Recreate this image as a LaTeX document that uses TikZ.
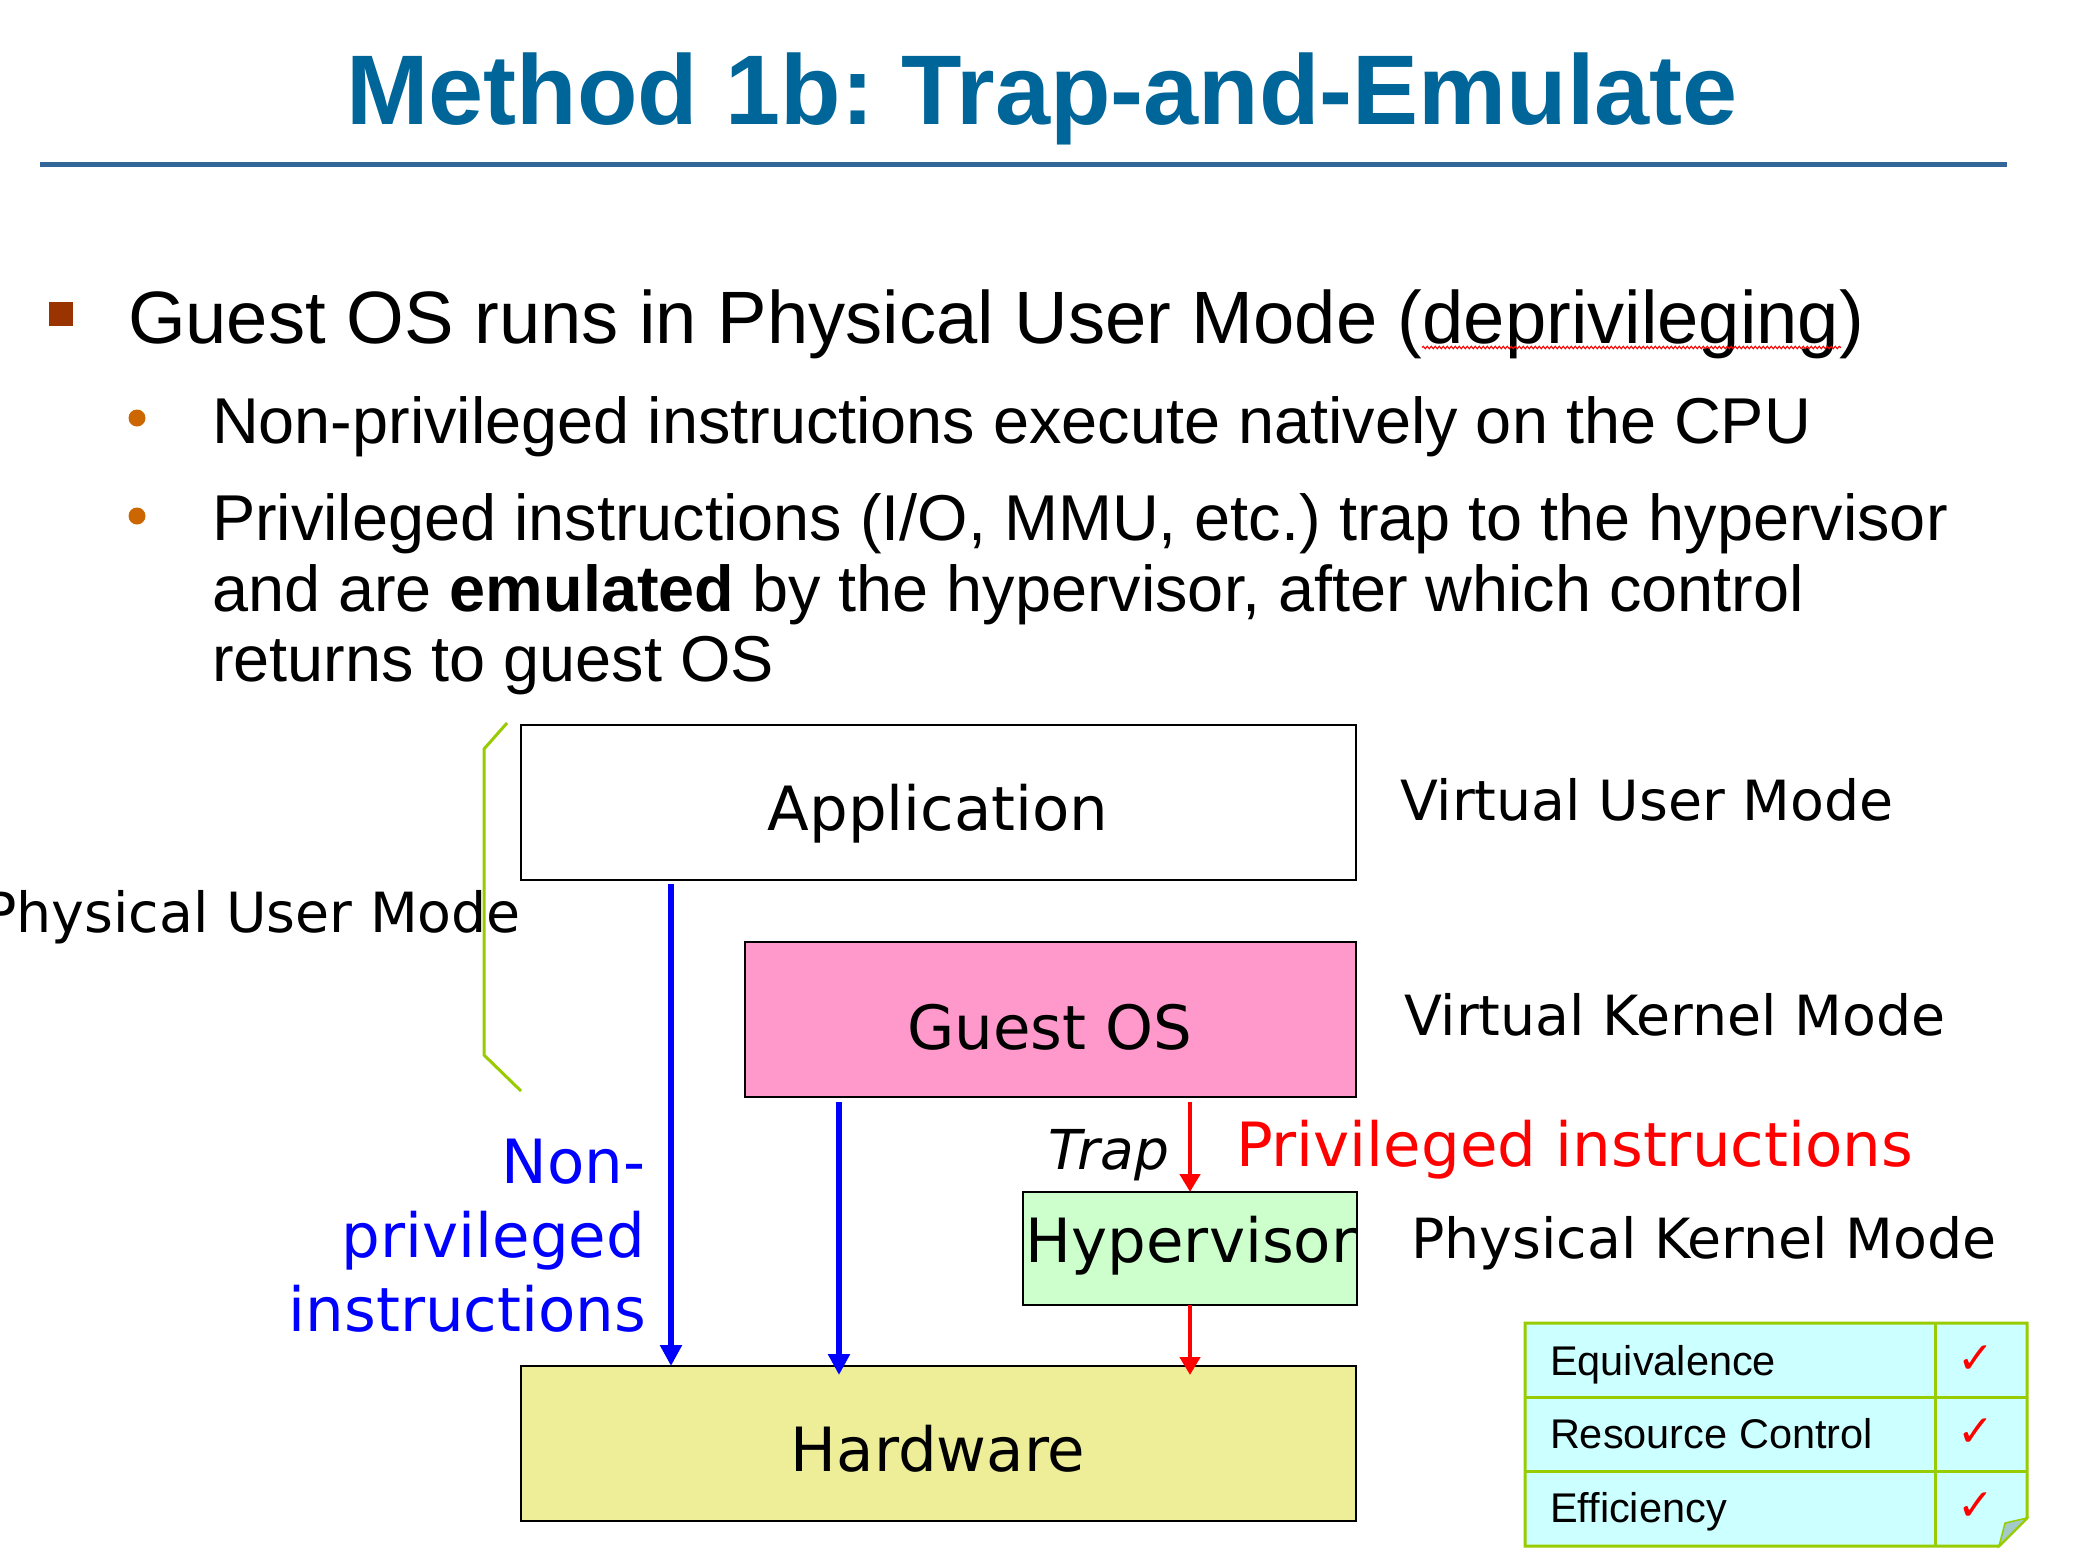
\documentclass[tikz,border=0pt]{standalone}
\usepackage{fontspec}
\setmainfont{Liberation Sans}
\newfontfamily\verd{DejaVu Sans}
\usetikzlibrary{arrows.meta,calc,decorations.pathmorphing}
\frenchspacing

\newcommand\pxsize[1]{\fontsize{#1}{#1}\selectfont}

\definecolor{titleblue}{HTML}{006699}
\definecolor{rulecol}{HTML}{336699}
\definecolor{sqbullet}{HTML}{993300}
\definecolor{dotbullet}{HTML}{CC6600}
\definecolor{guestpink}{HTML}{FF99CC}
\definecolor{hyperfill}{HTML}{CCFFCC}
\definecolor{hwfill}{HTML}{EEEE99}
\definecolor{limegreen}{HTML}{99CC00}
\definecolor{notecyan}{HTML}{CCFFFF}
\definecolor{foldgray}{HTML}{A3C9C9}
\definecolor{pureblue}{HTML}{0000FF}
\definecolor{purered}{HTML}{FF0000}

\tikzset{
  every node/.style={inner sep=0pt, outer sep=0pt},
  layer/.style={draw=black, line width=2.2pt},
  boxlabel/.style={font={\verd\pxsize{61}}, anchor=base},
  modelabel/.style={font={\verd\pxsize{55.4}}},
  bluelabel/.style={font={\verd\pxsize{61}}, text=pureblue, anchor=base east},
  barrow/.style={draw=pureblue, line width=6pt, -{Triangle[length=21pt,width=21pt]}},
  rarrow/.style={draw=purered, line width=4.5pt, -{Triangle[length=18pt,width=20pt]}},
  bodytext/.style={font={\pxsize{64.8}}, anchor=base west},
  notetext/.style={font={\pxsize{41.5}}, anchor=base west},
  tick/.style={font={\verd\bfseries\pxsize{44}}, text=purered},
}

\begin{document}
\begin{tikzpicture}[x=1pt,y=-1pt]
\useasboundingbox (0,0) rectangle (2075,1566);
\fill[white] (0,0) rectangle (2075,1566);

% heading and rule
\node[font={\bfseries\pxsize{99}}, text=titleblue, anchor=base] (title) at (1042,124) {Method 1b: Trap-and-Emulate};
\fill[rulecol] (40,161.5) rectangle (2007,166.5);

% bullet list
\fill[sqbullet] (49,302) rectangle (73,326);
\node[font={\pxsize{74.2}}, anchor=base west] (b1) at (128,343) {Guest OS runs in Physical User Mode (deprivileging)};
\draw[purered, line width=1.1pt, decorate, decoration={snake, amplitude=1.2pt, segment length=4pt}] (1422,347.5) -- (1841,347.5);
\fill[dotbullet] (137,418) circle (8.5);
\node[bodytext] (b2) at (212,443) {Non-privileged instructions execute natively on the CPU};
\fill[dotbullet] (137,516) circle (8.5);
\node[bodytext] (b3a) at (212,540) {Privileged instructions (I/O, MMU, etc.) trap to the hypervisor};
\node[bodytext] (b3b) at (212,611) {and are \textbf{emulated} by the hypervisor, after which control};
\node[bodytext] (b3c) at (212,681) {returns to guest OS};

% layers
\node[layer, fill=white, minimum width=835pt, minimum height=155pt] (app) at (938.5,802.5) {};
\node[layer, fill=guestpink, minimum width=611pt, minimum height=155pt] (guest) at (1050.5,1019.5) {};
\node[layer, fill=hyperfill, minimum width=334pt, minimum height=113pt] (hyp) at (1190,1248.5) {};
\node[layer, fill=hwfill, minimum width=835pt, minimum height=155pt] (hw) at (938.5,1443.5) {};

\node[boxlabel] (appT) at (938,830) {Application};
\node[boxlabel] (guestT) at (1050,1049) {Guest OS};
\node[boxlabel] (hypT) at (1191,1262) {Hypervisor};
\node[boxlabel] (hwT) at (938,1471) {Hardware};

% mode labels
\node[modelabel, anchor=base west] (vum) at (1400,820) {Virtual User Mode};
\node[modelabel, anchor=base west] (vkm) at (1404,1035) {Virtual Kernel Mode};
\node[modelabel, anchor=base west] (pkm) at (1411,1258) {Physical Kernel Mode};
\node[modelabel, anchor=base east] (pum) at (521,932) {Physical User Mode};

% bracket spanning the user-mode layers
\draw[limegreen, line width=3pt] (507,723) -- (484,749) -- (484,1055) -- (521,1091);

% instruction paths
\draw[barrow] ($(app.south west)+(150,4)$) -- ($(hw.north west)+(150,0)$);
\draw[barrow] ($(guest.south west)+(94,5)$) -- ($(hw.north west)+(318,9)$);
\draw[rarrow] ($(guest.south -| hyp.north)+(0,5)$) -- (hyp.north);
\draw[rarrow] (hyp.south) -- ($(hyp.south |- hw.north)+(0,9)$);

\node[bluelabel] (np1) at (645,1183) {Non-};
\node[bluelabel] (np2) at (645,1257) {privileged};
\node[bluelabel] (np3) at (646,1331) {instructions};
\node[font={\verd\itshape\pxsize{55}}, anchor=base east] (trap) at (1169,1169) {Trap};
\node[font={\verd\pxsize{61}}, text=purered, anchor=base west] (priv) at (1236,1166) {Privileged instructions};

% criteria note with folded corner
\filldraw[fill=notecyan, draw=limegreen, line width=3pt] (1525,1323) -- (2027,1323) -- (2027,1518) -- (1999,1546) -- (1525,1546) -- cycle;
\draw[limegreen, line width=3pt] (1525,1397) -- (2027,1397) (1525,1471) -- (2027,1471) (1935,1323) -- (1935,1546);
\filldraw[fill=foldgray, draw=limegreen, line width=1.5pt] (2027,1518) -- (1999,1546) -- (2005,1523) -- cycle;
\node[notetext] (eq) at (1550,1375) {Equivalence};
\node[notetext] (rc) at (1550,1448) {Resource Control};
\node[notetext] (ef) at (1550,1522) {Efficiency};
\node[tick] (t1) at (1976,1360) {✓};
\node[tick] (t2) at (1976,1433) {✓};
\node[tick] (t3) at (1976,1507) {✓};
\end{tikzpicture}
\end{document}
